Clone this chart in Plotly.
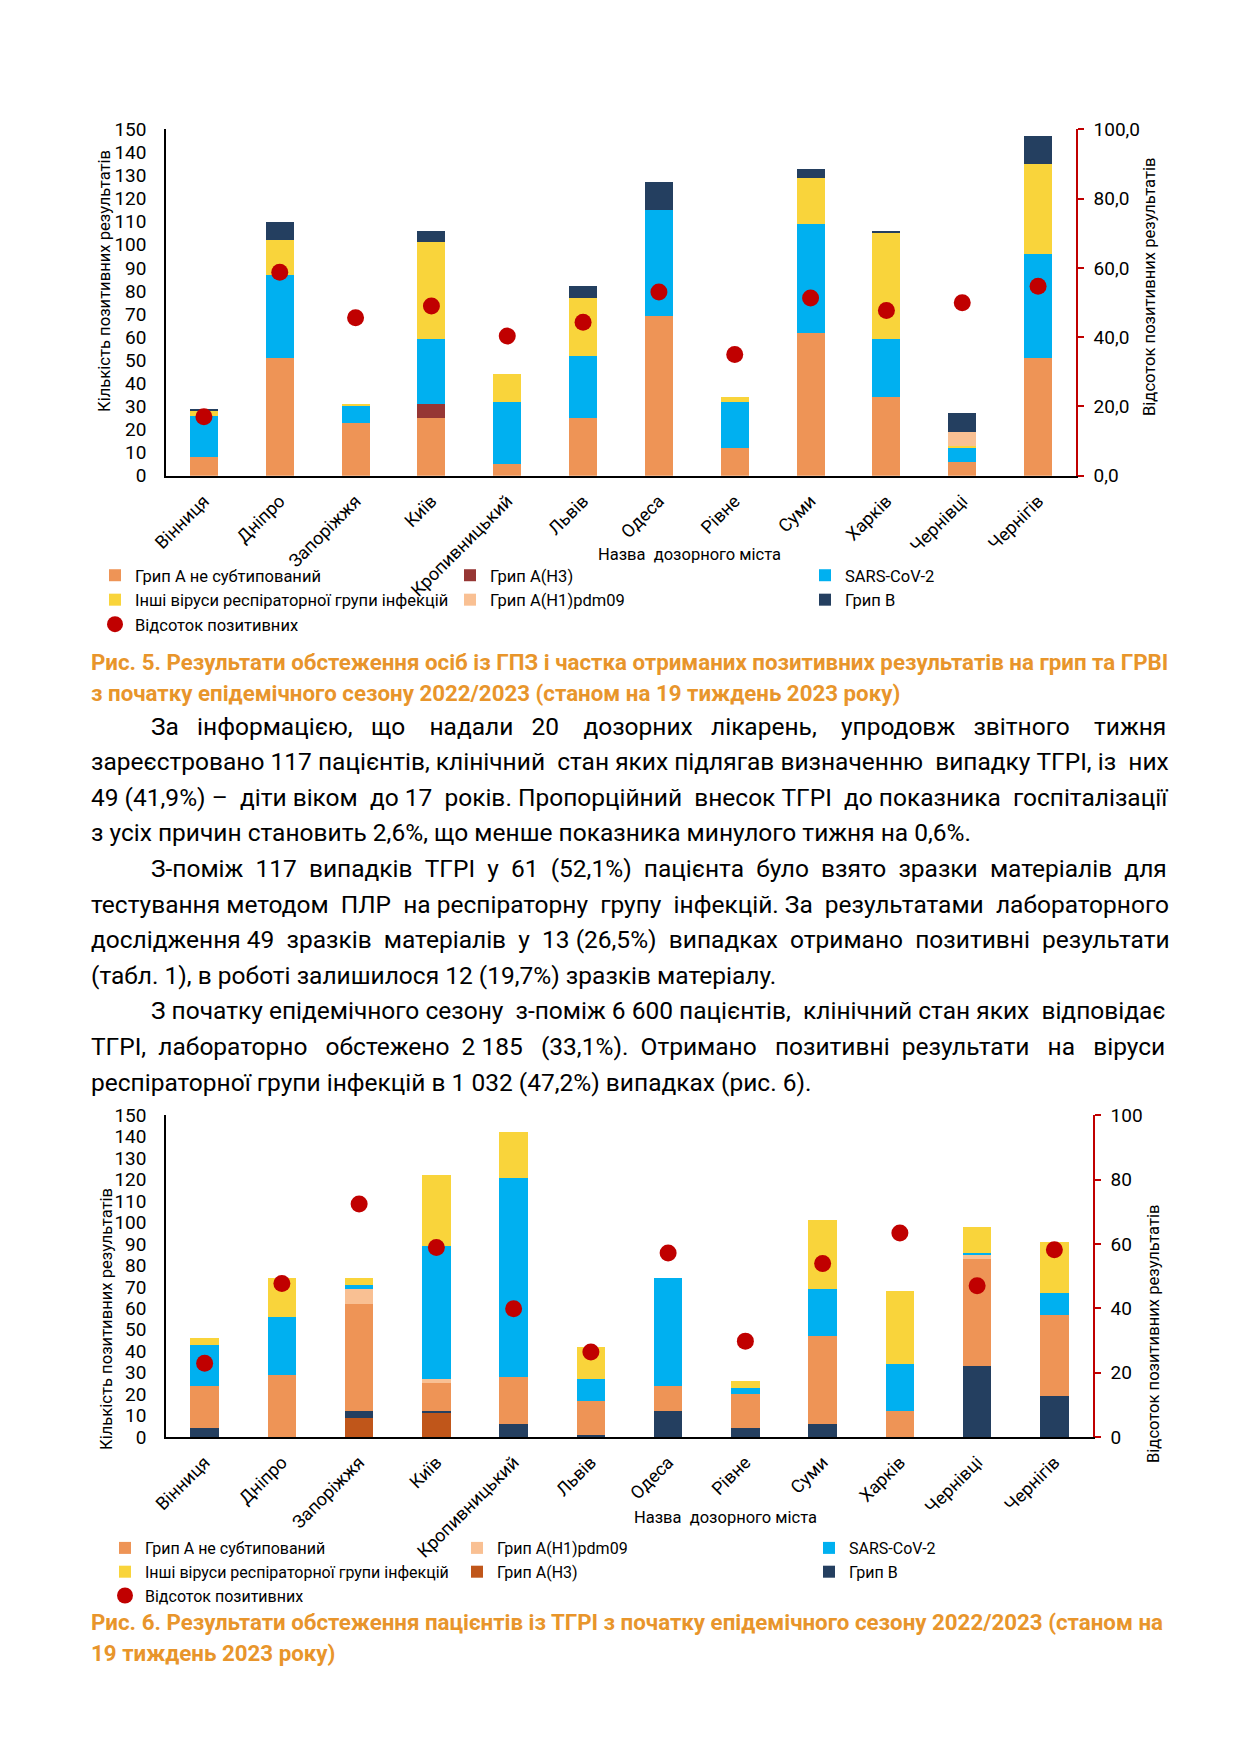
import plotly.graph_objects as go

PAGE_W, PAGE_H = 1240, 1755
BODY_MARGIN = 8  # the html page puts the figure 8 px in from the corner

CITIES = [
    "Вінниця", "Дніпро", "Запоріжжя", "Київ", "Кропивницький", "Львів",
    "Одеса", "Рівне", "Суми", "Харків", "Чернівці", "Чернігів",
]

# Рис. 5 - ГПЗ
F5_FLU_A = [8, 51, 23, 25, 5, 25, 69, 12, 62, 34, 6, 51]
F5_H3 = [0, 0, 0, 6, 0, 0, 0, 0, 0, 0, 0, 0]
F5_SARS = [18, 36, 7, 28, 27, 27, 46, 20, 47, 25, 6, 45]
F5_OTHER = [2, 15, 1, 42, 12, 25, 0, 2, 20, 46, 1, 39]
F5_H1 = [0, 0, 0, 0, 0, 0, 0, 0, 0, 0, 6, 0]
F5_FLU_B = [1, 8, 0, 5, 0, 5, 12, 0, 4, 1, 8, 12]
F5_PCT = [17.0, 58.7, 45.6, 49.0, 40.3, 44.3, 53.0, 35.0, 51.3, 47.7, 49.9, 54.7]

# Рис. 6 - ТГРІ
F6_H3 = [0, 0, 9, 11, 0, 0, 0, 0, 0, 0, 0, 0]
F6_FLU_B = [4, 0, 3, 1, 6, 1, 12, 4, 6, 0, 33, 19]
F6_FLU_A = [20, 29, 50, 13, 22, 16, 12, 16, 41, 12, 50, 38]
F6_H1 = [0, 0, 7, 2, 0, 0, 0, 0, 0, 0, 2, 0]
F6_SARS = [19, 27, 2, 62, 93, 10, 50, 3, 22, 22, 1, 10]
F6_OTHER = [3, 18, 3, 33, 21, 15, 0, 3, 32, 34, 12, 24]
F6_PCT = [22.9, 47.7, 72.4, 58.9, 39.9, 26.4, 57.2, 29.8, 53.9, 63.4, 47.0, 58.2]

LEFT_TICKS = list(range(0, 151, 10))
RIGHT_TICKS = list(range(0, 101, 20))

NAMES = {
    "a": "Грип А не субтипований",
    "h3": "Грип A(H3)",
    "sars": "SARS-CoV-2",
    "other": "Інші віруси респіраторної групи інфекцій",
    "h1": "Грип A(H1)pdm09",
    "b": "Грип В",
    "pct": "Відсоток позитивних",
}

CAPTION_5 = [
    "Рис. 5. Результати обстеження осіб із ГПЗ і частка отриманих позитивних результатів на грип та ГРВІ",
    "з початку епідемічного сезону 2022/2023 (станом на 19 тиждень 2023 року)",
]
CAPTION_6 = [
    "Рис. 6. Результати обстеження пацієнтів із ТГРІ з початку епідемічного сезону 2022/2023 (станом на",
    "19 тиждень 2023 року)",
]
# (indented, text, extra spaces to spread for justification)
BODY_LINES = [
    (True, "За інформацією, що надали 20 дозорних лікарень, упродовж звітного тижня", 22),
    (False, "зареєстровано 117 пацієнтів, клінічний стан яких підлягав визначенню випадку ТГРІ, із них", 3),
    (False, "49 (41,9%) – діти віком до 17 років. Пропорційний внесок ТГРІ до показника госпіталізації", 6),
    (False, "з усіх причин становить 2,6%, що менше показника минулого тижня на 0,6%.", 0),
    (True, "З-поміж 117 випадків ТГРІ у 61 (52,1%) пацієнта було взято зразки матеріалів для", 12),
    (False, "тестування методом ПЛР на респіраторну групу інфекцій. За результатами лабораторного", 6),
    (False, "дослідження 49 зразків матеріалів у 13 (26,5%) випадках отримано позитивні результати", 8),
    (False, "(табл. 1), в роботі залишилося 12 (19,7%) зразків матеріалу.", 0),
    (True, "З початку епідемічного сезону з-поміж 6\u00a0600 пацієнтів, клінічний стан яких відповідає", 3),
    (False, "ТГРІ, лабораторно обстежено 2\u00a0185 (33,1%). Отримано позитивні результати на віруси", 14),
    (False, "респіраторної групи інфекцій в 1\u00a0032 (47,2%) випадках (рис. 6).", 0),
]

FONT = "Roboto, Liberation Sans, sans-serif"
ORANGE = "#EE9456"
H3_TOP = "#963634"
H3_BOTTOM = "#C0561A"
BLUE = "#00B0F0"
YELLOW = "#F9D43B"
PEACH = "#F9C093"
NAVY = "#243F60"
RED = "#C00000"
CAPTION_COLOR = "#E8952B"


def px(x):
    return (x - BODY_MARGIN) / PAGE_W


def py(y):
    return 1 - (y - BODY_MARGIN) / PAGE_H


def justify(line, extra):
    words = line.split(" ")
    gaps = len(words) - 1
    if extra <= 0 or gaps == 0:
        return line
    out = words[0]
    for i, word in enumerate(words[1:]):
        n = 1 + extra * (i + 1) // gaps - extra * i // gaps
        out += "\u00a0" * n + word
    return out


def bar(name, values, color, xaxis, yaxis, legend, rank):
    return go.Bar(
        x=CITIES, y=values, name=name, marker={"color": color, "line": {"width": 0}},
        xaxis=xaxis, yaxis=yaxis, legend=legend, legendrank=rank,
    )


def dots(values, xaxis, yaxis, legend):
    return go.Scatter(
        x=CITIES, y=values, name=NAMES["pct"], mode="markers",
        marker={"color": RED, "size": 17},
        xaxis=xaxis, yaxis=yaxis, legend=legend, legendrank=7,
    )


fig = go.Figure()

# Рис. 5: stack from bottom A, H3, SARS, other, H1, B
for key, vals, col, rank in [
    ("a", F5_FLU_A, ORANGE, 1), ("h3", F5_H3, H3_TOP, 2), ("sars", F5_SARS, BLUE, 3),
    ("other", F5_OTHER, YELLOW, 4), ("h1", F5_H1, PEACH, 5), ("b", F5_FLU_B, NAVY, 6),
]:
    fig.add_trace(bar(NAMES[key], vals, col, "x", "y", "legend", rank))
fig.add_trace(dots(F5_PCT, "x", "y2", "legend"))

# Рис. 6: stack from bottom H3, B, A, H1, SARS, other
for key, vals, col, rank in [
    ("h3", F6_H3, H3_BOTTOM, 5), ("b", F6_FLU_B, NAVY, 6), ("a", F6_FLU_A, ORANGE, 1),
    ("h1", F6_H1, PEACH, 2), ("sars", F6_SARS, BLUE, 3), ("other", F6_OTHER, YELLOW, 4),
]:
    fig.add_trace(bar(NAMES[key], vals, col, "x2", "y3", "legend2", rank))
fig.add_trace(dots(F6_PCT, "x2", "y4", "legend2"))

tick_font = {"family": FONT, "size": 19, "color": "#000000"}
cat_axis = dict(
    type="category", range=[-0.5, len(CITIES) - 0.5], showline=True,
    linecolor="#000000", linewidth=1.5, showgrid=False, ticks="", tickangle=-45,
    tickfont=dict(tick_font, size=18), ticklabelstandoff=6, automargin=False,
)
left_axis = dict(
    range=[0, 150], tickvals=LEFT_TICKS, showline=True, linecolor="#000000",
    linewidth=1.5, showgrid=False, zeroline=False, ticks="", tickfont=tick_font,
    ticklabelstandoff=14, automargin=False,
)
right_axis = dict(
    range=[0, 100], tickvals=RIGHT_TICKS, showline=True, linecolor=RED,
    linewidth=1.5, showgrid=False, zeroline=False, ticks="outside", ticklen=6,
    tickcolor=RED, tickwidth=1.5, tickfont=tick_font, side="right",
    ticklabelstandoff=6, automargin=False,
)
legend_style = dict(
    orientation="h", xanchor="left", yanchor="top",
    entrywidthmode="pixels", traceorder="normal",
    font={"family": FONT, "size": 16.5, "color": "#000000"}, itemwidth=30,
    bgcolor="rgba(0,0,0,0)", borderwidth=0, tracegroupgap=0,
)

fig.update_layout(
    template="none",
    width=PAGE_W, height=PAGE_H,
    margin={"l": 0, "r": 0, "t": 0, "b": 0, "autoexpand": False},
    paper_bgcolor="white", plot_bgcolor="white",
    barmode="stack", bargap=0.63,
    separators=", ",
    font={"family": FONT, "color": "#000000"},
    xaxis=dict(cat_axis, domain=[px(166), px(1076)], anchor="y"),
    yaxis=dict(left_axis, domain=[py(475.7), py(129.3)], anchor="x"),
    yaxis2=dict(right_axis, overlaying="y", anchor="x", tickformat=".1f"),
    xaxis2=dict(cat_axis, domain=[px(166), px(1093)], anchor="y3"),
    yaxis3=dict(left_axis, domain=[py(1437), py(1115.3)], anchor="x2"),
    yaxis4=dict(right_axis, overlaying="y3", anchor="x2", tickformat="d"),
    legend=dict(legend_style, x=px(95), y=py(558), entrywidth=310),
    legend2=dict(legend_style, x=px(105), y=py(1531), entrywidth=307,
                 font=dict(legend_style["font"], size=16)),
    showlegend=True,
)

annotations = []


def text(x, y, s, size, color="#000000", bold=False, angle=0, xanchor="left"):
    annotations.append(dict(
        x=px(x), y=py(y), xref="paper", yref="paper", text=f"<b>{s}</b>" if bold else s,
        showarrow=False, xanchor=xanchor, yanchor="middle", textangle=angle,
        font={"family": FONT, "size": size, "color": color},
    ))


# axis titles
text(104, 281, "Кількість позитивних результатів", 16.6, angle=-90, xanchor="center")
text(1149, 287, "Відсоток позитивних результатів", 16.6, angle=-90, xanchor="center")
text(689, 555, "Назва&nbsp;&nbsp;дозорного міста", 16.5, xanchor="center")
text(106, 1319, "Кількість позитивних результатів", 16.6, angle=-90, xanchor="center")
text(1153, 1334, "Відсоток позитивних результатів", 16.6, angle=-90, xanchor="center")
text(725, 1517, "Назва&nbsp;&nbsp;дозорного міста", 16.5, xanchor="center")

# captions
for i, line in enumerate(CAPTION_5):
    text(89, 662 + 31.5 * i, line, 22.3, CAPTION_COLOR, bold=True)
for i, line in enumerate(CAPTION_6):
    text(89, 1622 + 30.5 * i, line, 22.3, CAPTION_COLOR, bold=True)

# body
for i, (indent, line, extra) in enumerate(BODY_LINES):
    text(149 if indent else 89, 726 + 35.6 * i, justify(line, extra), 24.5)

fig.update_layout(annotations=annotations)

fig.write_html("out.html")
